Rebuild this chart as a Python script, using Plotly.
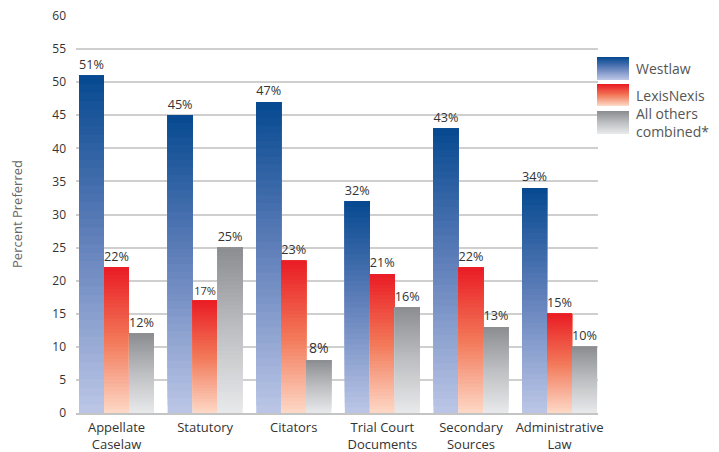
import plotly.graph_objects as go

categories = ["Appellate<br>Caselaw", "Statutory", "Citators", "Trial Court<br>Documents",
              "Secondary<br>Sources", "Administrative<br>Law"]
westlaw = [51, 45, 47, 32, 43, 34]
lexisnexis = [22, 17, 23, 21, 22, 15]
others = [12, 25, 8, 16, 13, 10]
series_names = ["Westlaw", "LexisNexis", "All others<br>combined*"]

# gradient stops: (bottom, middle, top)
grad = {
    "Westlaw": [(186, 197, 229), (100, 130, 188), (8, 74, 145)],
    "LexisNexis": [(253, 214, 196), (242, 120, 88), (234, 30, 38)],
    "All others<br>combined*": [(231, 232, 234), (190, 191, 194), (140, 142, 146)],
}

N = 40
FONT = "Open Sans"


def interp(stops, t):
    if t <= 0.5:
        a, b, u = stops[0], stops[1], t / 0.5
    else:
        a, b, u = stops[1], stops[2], (t - 0.5) / 0.5
    c = [round(a[i] + (b[i] - a[i]) * u) for i in range(3)]
    return "rgb(%d,%d,%d)" % tuple(c)


fig = go.Figure()
data = [westlaw, lexisnexis, others]
for name, vals in zip(series_names, data):
    for k in range(N):
        t = k / (N - 1)
        base = [v * k / N for v in vals]
        h = [v - b for v, b in zip(vals, base)]
        top = k == N - 1
        fig.add_trace(go.Bar(
            x=categories, y=h, base=base, offsetgroup=name,
            marker=dict(color=interp(grad[name], t), line=dict(width=0)),
            showlegend=False, hoverinfo="skip",
            text=[f"{v}%" for v in vals] if top else None,
            textposition="outside" if top else None,
            textfont=dict(family=FONT, size=[11 if v == 17 and name == "LexisNexis" else 14 for v in vals], color="#333333"),
            cliponaxis=False,
        ))

# page offset of the figure (browser body margin)
OFF = 8
# plot geometry in page pixels
L, R, T, B = 76, 598, 15, 413
W, H = R - L, B - T
PW, PH = 719 - OFF, 452 - OFF
YMAX = 60.15


def px(x):
    return (x - L) / W


def py(y):
    return (B - y) / H


shapes = []
annotations = []
legend_boxes = [(57, 80), (84, 106), (111, 134)]
for name, (y0, y1) in zip(series_names, legend_boxes):
    M = 20
    for k in range(M):
        t = k / (M - 1)
        ya = y1 - (y1 - y0) * k / M
        shapes.append(dict(type="rect", xref="paper", yref="paper",
                           x0=px(597), x1=px(629), y0=py(ya), y1=py(y0),
                           fillcolor=interp(grad[name], t), line=dict(width=0), layer="above"))
    annotations.append(dict(xref="paper", yref="paper", x=px(634), y=py((y0 + y1) / 2),
                            text=name, showarrow=False, xanchor="left", yanchor="middle",
                            align="left", font=dict(family=FONT, size=14, color="#555555")))

fig.update_layout(
    width=PW, height=PH,
    margin=dict(l=L - OFF, r=719 - R, t=T - OFF, b=452 - B, autoexpand=False),
    paper_bgcolor="white", plot_bgcolor="white",
    barmode="group", bargap=0.154, bargroupgap=0,
    font=dict(family=FONT, color="#333333"),
    shapes=shapes, annotations=annotations,
    xaxis=dict(range=[-0.457, 5.434], showgrid=False, showline=True, automargin=False,
               linecolor="#c4c4c4", linewidth=2, ticks="", ticklabelstandoff=1,
               tickfont=dict(family=FONT, size=13, color="#333333")),
    yaxis=dict(range=[0, YMAX], tick0=0, dtick=5, showgrid=True, gridcolor="#cfcfcf", gridwidth=2,
               zeroline=False, showline=False, ticks="", ticklabelstandoff=9, automargin=False,
               ticklabeloverflow="allow",
               tickfont=dict(family=FONT, size=12, color="#333333"),
               title=dict(text="Percent Preferred", standoff=30,
                          font=dict(family=FONT, size=13, color="#666666"))),
    showlegend=False,
)

fig.write_html("out.html")
